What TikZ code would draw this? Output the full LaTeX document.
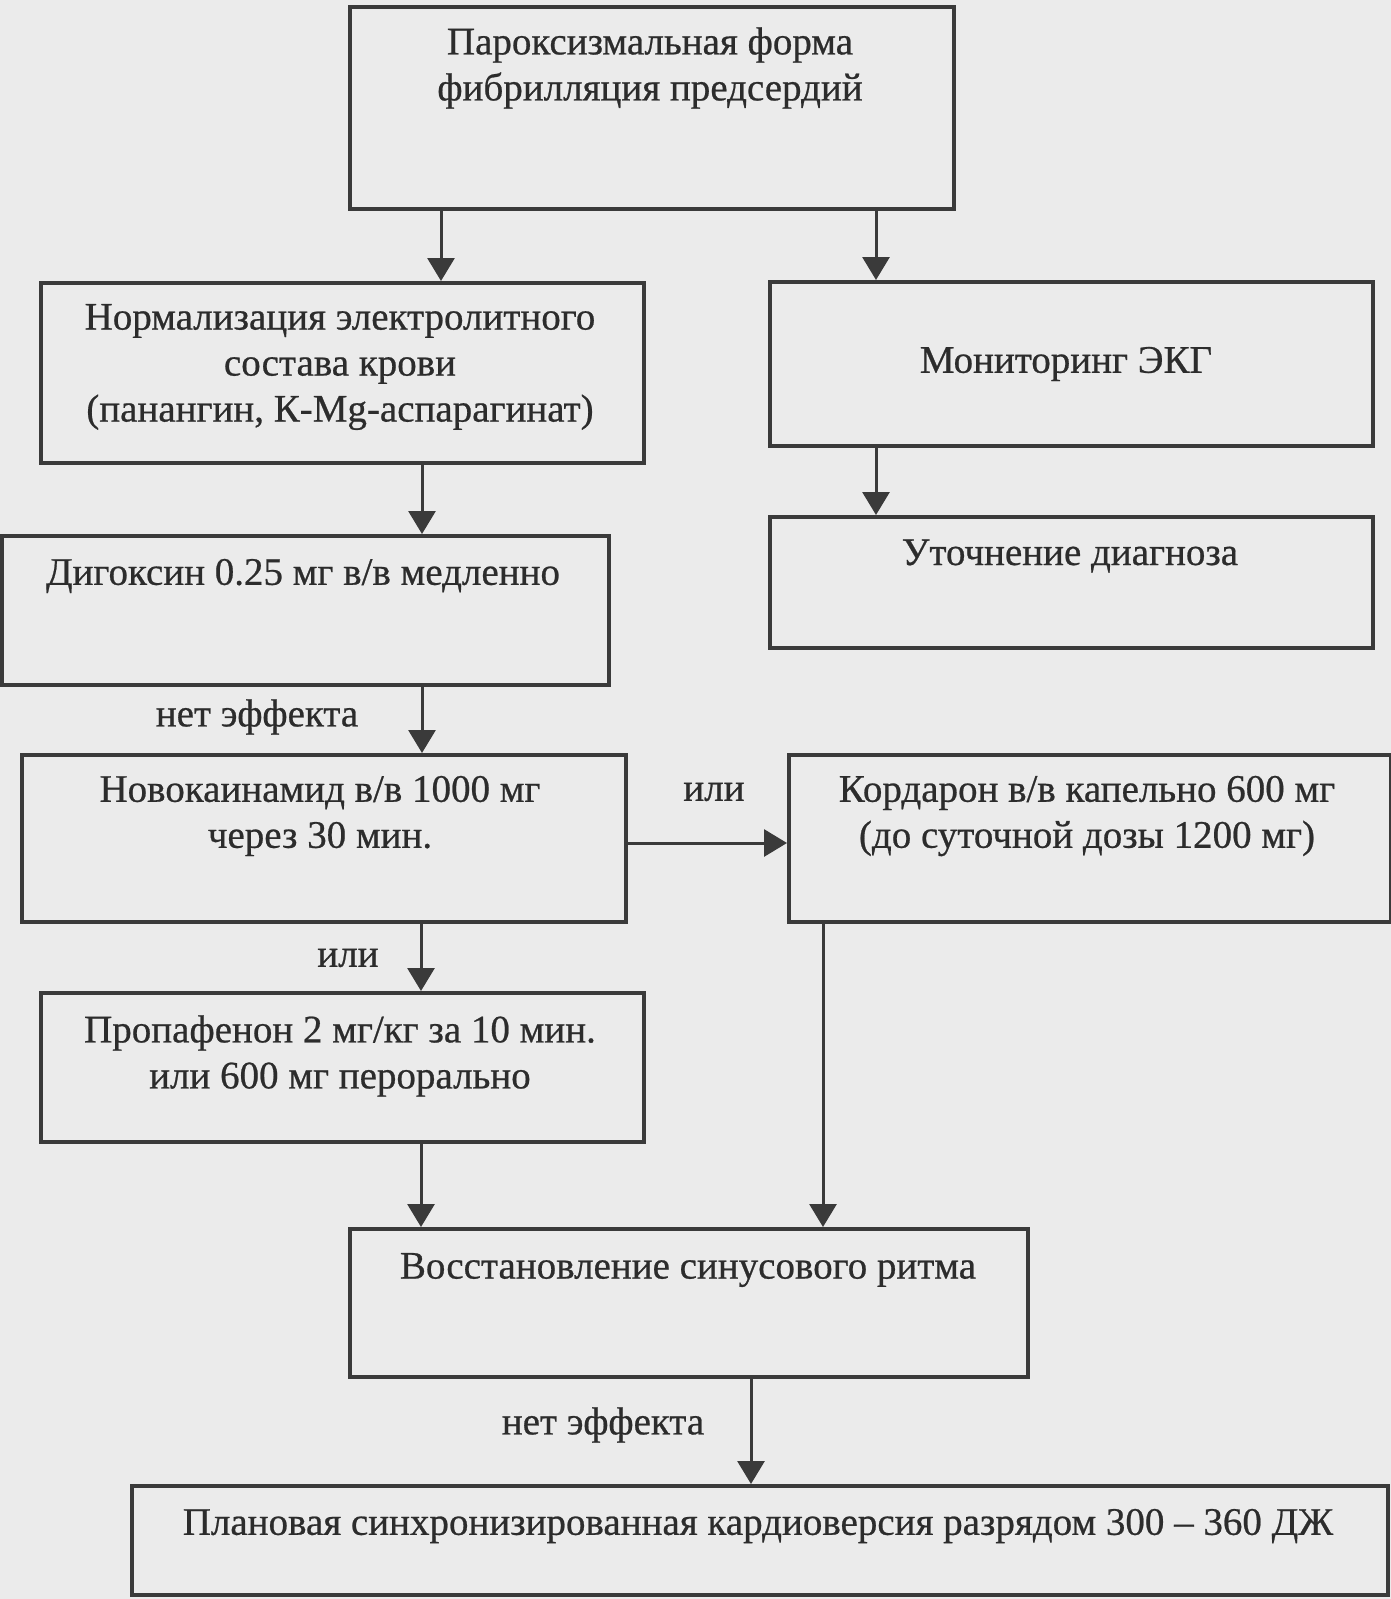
\documentclass[tikz,border=0pt]{standalone}
\usepackage{fontspec}
\setmainfont{Liberation Serif}
\newfontfamily\scanfont{Liberation Serif}[FakeBold=0.6]
\usetikzlibrary{arrows.meta}
\definecolor{bg}{HTML}{EBEBEB}
\definecolor{ink}{HTML}{3A3A3A}
\definecolor{txt}{HTML}{2C2C2C}
\begin{document}
\begin{tikzpicture}[x=1pt,y=-1pt,
  box/.style={draw=ink,line width=4pt,inner sep=0pt,anchor=north west},
  lbl/.style={text=txt,font=\scanfont\fontsize{39}{46}\selectfont,align=center,inner sep=0pt},
  arr/.style={draw=ink,line width=3pt,-{Triangle[length=23pt,width=27pt]}}]
\fill[bg] (0,0) rectangle (1391,1599);
\useasboundingbox (0,0) rectangle (1391,1599);
% boxes
\node[box,minimum width=604pt,minimum height=202pt] (top) at (348,4.5) {};
\node[box,minimum width=603pt,minimum height=180pt] (norm) at (39,281) {};
\node[box,minimum width=603pt,minimum height=164pt] (mon) at (768,280) {};
\node[box,minimum width=603pt,minimum height=131pt] (ut) at (768,515) {};
\node[box,minimum width=607pt,minimum height=149pt] (dig) at (0,534) {};
\node[box,minimum width=604pt,minimum height=167pt] (nov) at (20,753) {};
\node[box,minimum width=602pt,minimum height=167pt] (kor) at (787,753) {};
\node[box,minimum width=603pt,minimum height=149pt] (pro) at (39,991) {};
\node[box,minimum width=678pt,minimum height=148pt] (vos) at (348,1227) {};
\node[box,minimum width=1256pt,minimum height=109pt] (plan) at (130,1484) {};
% texts
\node[lbl] (ttop) at (650,68) {Пароксизмальная форма\\фибрилляция предсердий};
\node[lbl] (tnorm) at (340,367) {Нормализация электролитного\\состава крови\\(панангин, К-Mg-аспарагинат)};
\node[lbl] (tmon) at (1066,364) {Мониторинг ЭКГ};
\node[lbl] (tut) at (1070,556) {Уточнение диагноза};
\node[lbl] (tdig) at (303,576) {Дигоксин 0.25 мг в/в медленно};
\node[lbl] (ne1) at (257,717) {нет эффекта};
\node[lbl] (tnov) at (320,816) {Новокаинамид в/в 1000 мг\\через 30 мин.};
\node[lbl] (ili1) at (714,792) {или};
\node[lbl] (tkor) at (1087,816) {Кордарон в/в капельно 600 мг\\(до суточной дозы 1200 мг)};
\node[lbl] (ili2) at (348,958) {или};
\node[lbl] (tpro) at (340,1056) {Пропафенон 2 мг/кг за 10 мин.\\или 600 мг перорально};
\node[lbl] (tvos) at (688,1270) {Восстановление синусового ритма};
\node[lbl] (ne2) at (603,1425) {нет эффекта};
\node[lbl] (tplan) at (758,1526) {Плановая синхронизированная кардиоверсия разрядом 300 – 360 ДЖ};
% arrows
\draw[arr] (441,0 |- top.south) -- (441,0 |- norm.north);
\draw[arr] (876,0 |- top.south) -- (876,0 |- mon.north);
\draw[arr] (876,0 |- mon.south) -- (876,0 |- ut.north);
\draw[arr] (422,0 |- norm.south) -- (422,0 |- dig.north);
\draw[arr] (422,0 |- dig.south) -- (422,0 |- nov.north);
\draw[arr] (nov.east |- 0,843) -- (kor.west |- 0,843);
\draw[arr] (421,0 |- nov.south) -- (421,0 |- pro.north);
\draw[arr] (421,0 |- pro.south) -- (421,0 |- vos.north);
\draw[arr] (823,0 |- kor.south) -- (823,0 |- vos.north);
\draw[arr] (751,0 |- vos.south) -- (751,0 |- plan.north);
\end{tikzpicture}
\end{document}
